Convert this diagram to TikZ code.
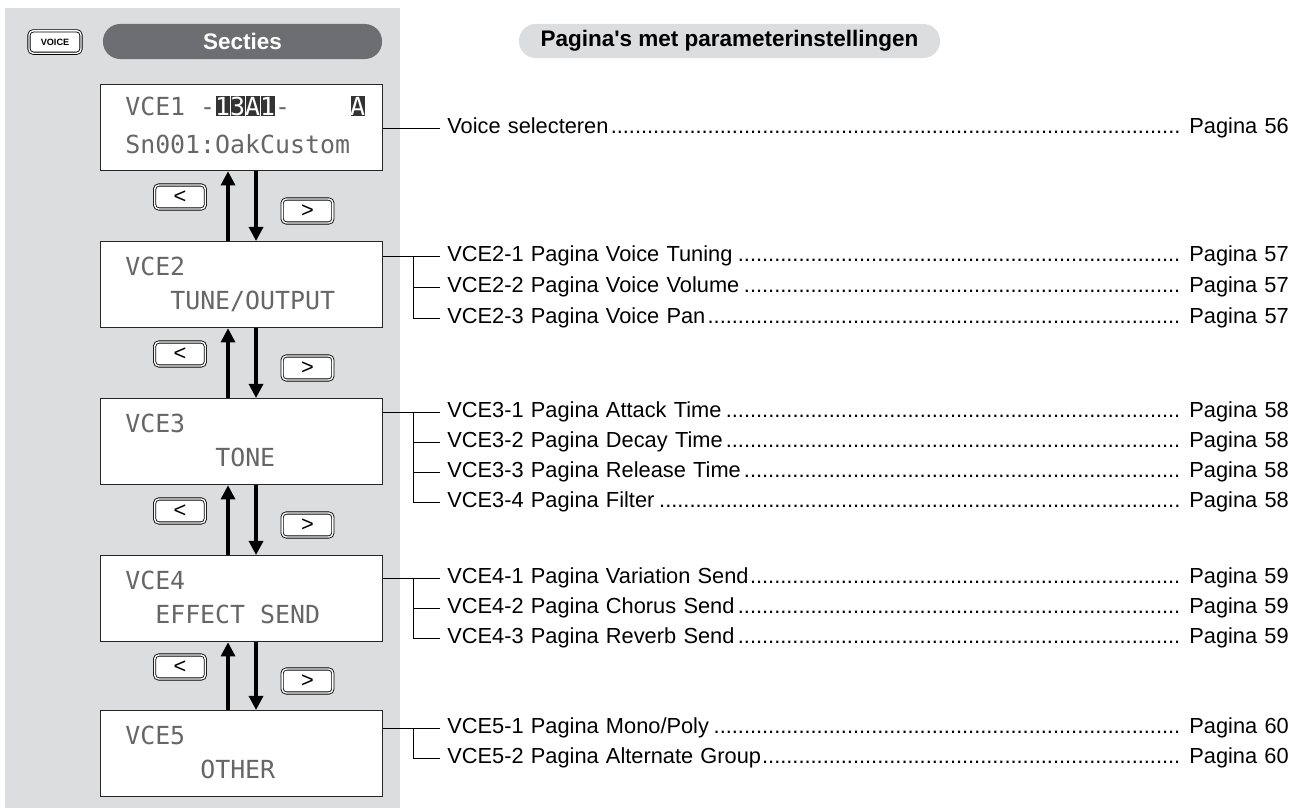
\documentclass[tikz,border=0pt]{standalone}
\usepackage{fontspec}
\setmainfont{Liberation Sans}
\newfontfamily\lcdfont{DejaVu Sans Mono}
\usepackage{xcolor}
\usepackage{tikz}
\usetikzlibrary{arrows.meta, positioning, calc}
\definecolor{paneel}{RGB}{220,221,223}
\definecolor{donker}{RGB}{109,110,113}
\newcommand{\puntjes}{\leaders\hbox{.}\hfill}
\newcommand{\omkeer}[1]{\makebox[10.67pt]{\setlength{\fboxsep}{0.7pt}\colorbox{black!80}{\makebox[8.4pt]{\color{white}#1}}}}

\begin{document}
\begin{tikzpicture}[
    x=0.025cm, y=-0.025cm,
    font=\fontsize{15.5}{18}\selectfont,
    scherm/.style={draw=black!85, line width=0.9pt, fill=white, anchor=north west,
                   minimum width=7.05cm, minimum height=2.15cm},
    lcd/.style={anchor=base west, inner sep=0, text=black!60,
                font=\lcdfont\fontsize{17.7}{20}\selectfont},
    knop/.style={draw, double, double distance=1pt, line width=0.6pt, fill=white,
                 rounded corners=3pt, minimum width=1.27cm, minimum height=0.6cm, inner sep=0},
    pijl/.style={line width=2.2pt, -{Triangle[width=10pt,length=10pt]}},
    regel/.style={anchor=west, inner xsep=5pt, inner ysep=1pt, text width=21.025cm},
    tak/.style={line width=0.7pt}
  ]
    \useasboundingbox (0,0) rectangle (1306,809);
    \fill[paneel] (5,8) rectangle (400,808);

    % koppen
    \node[knop, minimum width=1.3cm, minimum height=0.56cm,
          font=\fontsize{6.5}{7}\selectfont\bfseries] (voice) at (55,42) {VOICE};
    \node[fill=donker, rounded corners=0.43cm, minimum width=6.975cm, minimum height=0.875cm,
          text=white, font=\fontsize{16}{18}\selectfont\bfseries] (secties) at (242.5,41.5) {Secties};
    \node[fill=paneel, rounded corners=0.42cm, minimum width=10.525cm, minimum height=0.85cm,
          font=\fontsize{16}{18}\selectfont\bfseries] (paginas) at (729.5,41)
          {Pagina\textquotesingle s met parameterinstellingen};

    % schermen
    \node[scherm] (vce1) at (100,84)  {};
    \node[scherm] (vce2) at (100,241) {};
    \node[scherm] (vce3) at (100,398) {};
    \node[scherm] (vce4) at (100,555) {};
    \node[scherm] (vce5) at (100,710) {};
    \node[lcd] (vce1a) at (125,115) {VCE1 -\omkeer{1}\omkeer{3}\omkeer{A}\omkeer{1}-~~~~\omkeer{A}};
    \node[lcd] (vce1b) at (125,153) {Sn001:OakCustom};
    \node[lcd] (vce2a) at (125,275) {VCE2};
    \node[lcd] (vce2b) at (170,309) {TUNE/OUTPUT};
    \node[lcd] (vce3a) at (125,432) {VCE3};
    \node[lcd] (vce3b) at (215,466) {TONE};
    \node[lcd] (vce4a) at (125,589) {VCE4};
    \node[lcd] (vce4b) at (155,623) {EFFECT SEND};
    \node[lcd] (vce5a) at (125,744) {VCE5};
    \node[lcd] (vce5b) at (200,778) {OTHER};

    % bladeren
    \draw[pijl] ([xshift=3.2cm]vce2.north west) -- ([xshift=3.2cm]vce1.south west);
    \draw[pijl] ([xshift=3.9cm]vce1.south west) -- ([xshift=3.9cm]vce2.north west);
    \draw[pijl] ([xshift=3.2cm]vce3.north west) -- ([xshift=3.2cm]vce2.south west);
    \draw[pijl] ([xshift=3.9cm]vce2.south west) -- ([xshift=3.9cm]vce3.north west);
    \draw[pijl] ([xshift=3.2cm]vce4.north west) -- ([xshift=3.2cm]vce3.south west);
    \draw[pijl] ([xshift=3.9cm]vce3.south west) -- ([xshift=3.9cm]vce4.north west);
    \draw[pijl] ([xshift=3.2cm]vce5.north west) -- ([xshift=3.2cm]vce4.south west);
    \draw[pijl] ([xshift=3.9cm]vce4.south west) -- ([xshift=3.9cm]vce5.north west);
    \node[knop] (terug1)  at (180,197)   {<};
    \node[knop] (verder1) at (307.5,211) {>};
    \node[knop] (terug2)  at (180,354)   {<};
    \node[knop] (verder2) at (307.5,368) {>};
    \node[knop] (terug3)  at (180,511)   {<};
    \node[knop] (verder3) at (307.5,525) {>};
    \node[knop] (terug4)  at (180,667)   {<};
    \node[knop] (verder4) at (307.5,681) {>};

    % parameterpagina's
    \node[regel] (r1) at (440,128) {Voice selecteren\puntjes\ Pagina 56};
    \draw[tak] (vce1.east |- r1.west) -- (r1.west);

    \node[regel] (r21) at (440,256) {VCE2-1 Pagina Voice Tuning\puntjes\ Pagina 57};
    \node[regel] (r22) at (440,287) {VCE2-2 Pagina Voice Volume\puntjes\ Pagina 57};
    \node[regel] (r23) at (440,318) {VCE2-3 Pagina Voice Pan\puntjes\ Pagina 57};
    \coordinate (k2) at (413,256);
    \draw[tak] (vce2.east |- r21.west) -- (r21.west);
    \draw[tak] (k2) |- (r23.west);
    \draw[tak] (k2 |- r22.west) -- (r22.west);

    \node[regel] (r31) at (440,412) {VCE3-1 Pagina Attack Time\puntjes\ Pagina 58};
    \node[regel] (r32) at (440,442) {VCE3-2 Pagina Decay Time\puntjes\ Pagina 58};
    \node[regel] (r33) at (440,472) {VCE3-3 Pagina Release Time\puntjes\ Pagina 58};
    \node[regel] (r34) at (440,502) {VCE3-4 Pagina Filter\puntjes\ Pagina 58};
    \coordinate (k3) at (413,412);
    \draw[tak] (vce3.east |- r31.west) -- (r31.west);
    \draw[tak] (k3) |- (r34.west);
    \draw[tak] (k3 |- r32.west) -- (r32.west);
    \draw[tak] (k3 |- r33.west) -- (r33.west);

    \node[regel] (r41) at (440,578) {VCE4-1 Pagina Variation Send\puntjes\ Pagina 59};
    \node[regel] (r42) at (440,608) {VCE4-2 Pagina Chorus Send\puntjes\ Pagina 59};
    \node[regel] (r43) at (440,638) {VCE4-3 Pagina Reverb Send\puntjes\ Pagina 59};
    \coordinate (k4) at (413,578);
    \draw[tak] (vce4.east |- r41.west) -- (r41.west);
    \draw[tak] (k4) |- (r43.west);
    \draw[tak] (k4 |- r42.west) -- (r42.west);

    \node[regel] (r51) at (440,728) {VCE5-1 Pagina Mono/Poly\puntjes\ Pagina 60};
    \node[regel] (r52) at (440,758) {VCE5-2 Pagina Alternate Group\puntjes\ Pagina 60};
    \coordinate (k5) at (413,728);
    \draw[tak] (vce5.east |- r51.west) -- (r51.west);
    \draw[tak] (k5) |- (r52.west);
  \end{tikzpicture}
\end{document}
